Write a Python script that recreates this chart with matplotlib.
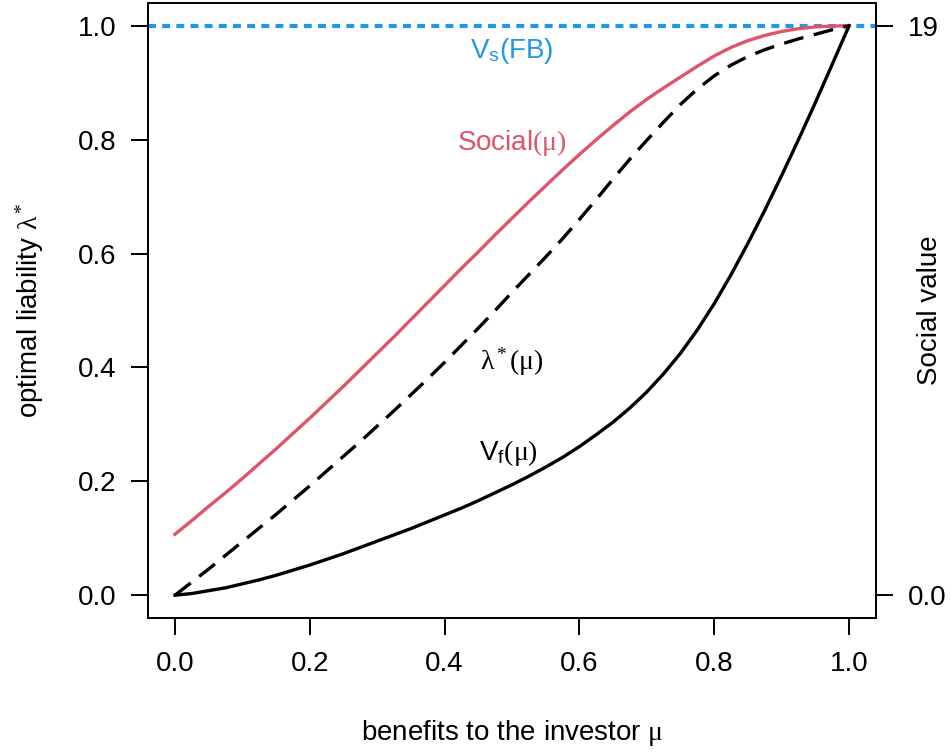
import matplotlib
matplotlib.use("Agg")
import matplotlib.pyplot as plt

plt.rcParams['font.family'] = ['Liberation Sans', 'DejaVu Sans']
plt.rcParams['mathtext.fontset'] = 'custom'
plt.rcParams['mathtext.rm'] = 'Liberation Serif'
plt.rcParams['mathtext.it'] = 'Liberation Serif:italic'
plt.rcParams['mathtext.sf'] = 'Liberation Sans'

# benefits to the investor
mu = [0.0, 0.025, 0.05, 0.075, 0.1, 0.125, 0.15, 0.175, 0.2, 0.225,
      0.25, 0.275, 0.3, 0.325, 0.35, 0.375, 0.4, 0.425, 0.45, 0.475,
      0.5, 0.525, 0.55, 0.575, 0.6, 0.625, 0.65, 0.675, 0.7, 0.725,
      0.75, 0.775, 0.8, 0.825, 0.85, 0.875, 0.9, 0.925, 0.95, 0.975, 1.0]
# social value curve (red)
social = [0.107, 0.131, 0.156, 0.180, 0.205, 0.231, 0.257, 0.284, 0.311, 0.339,
          0.367, 0.396, 0.425, 0.454, 0.484, 0.514, 0.544, 0.574, 0.603, 0.633,
          0.662, 0.691, 0.719, 0.747, 0.774, 0.800, 0.825, 0.849, 0.871, 0.891,
          0.910, 0.929, 0.947, 0.962, 0.974, 0.983, 0.990, 0.995, 0.998, 0.9995, 1.0]
# optimal liability lambda* (dashed)
lam_star = [0.0, 0.023, 0.046, 0.070, 0.094, 0.118, 0.142, 0.167, 0.192, 0.218,
            0.244, 0.270, 0.297, 0.324, 0.352, 0.380, 0.409, 0.439, 0.469, 0.500,
            0.532, 0.563, 0.594, 0.626, 0.660, 0.695, 0.731, 0.766, 0.799, 0.831,
            0.862, 0.889, 0.912, 0.931, 0.946, 0.958, 0.968, 0.977, 0.985, 0.993, 1.0]
# V_f (solid black)
v_f = [0.0, 0.003, 0.008, 0.013, 0.020, 0.027, 0.035, 0.044, 0.053, 0.063,
       0.073, 0.084, 0.095, 0.106, 0.117, 0.129, 0.141, 0.153, 0.166, 0.180,
       0.194, 0.209, 0.225, 0.242, 0.261, 0.282, 0.304, 0.329, 0.357, 0.389,
       0.425, 0.466, 0.512, 0.563, 0.618, 0.676, 0.737, 0.800, 0.865, 0.932, 1.0]
fb_level = 1.0

xticks = [0.0, 0.2, 0.4, 0.6, 0.8, 1.0]
yticks = [0.0, 0.2, 0.4, 0.6, 0.8, 1.0]
right_ticks = [0.0, 1.0]
right_labels = ['0.0', '19']

red = '#DF536B'
blue = '#2297E6'
fs = 20

fig = plt.figure(figsize=(9.51, 7.52), dpi=100)
ax = fig.add_axes([148/951, 1-618/752, 728/951, 615/752])

ax.axhline(fb_level, color=blue, lw=3.0, dashes=(1.9, 1.5))
ax.plot(mu, social, color=red, lw=2.4)
ax.plot(mu, lam_star, color='black', lw=2.4, dashes=(6.0, 3.2))
ax.plot(mu, v_f, color='black', lw=2.4)

ax.set_xlim(-0.04, 1.04)
ax.set_ylim(-0.04, 1.04)
ax.set_xticks(xticks)
ax.set_xticklabels(['%.1f' % t for t in xticks])
ax.set_yticks(yticks)
ax.set_yticklabels(['%.1f' % t for t in yticks])

for s in ax.spines.values():
    s.set_linewidth(1.4)
ax.tick_params(axis='both', labelsize=fs, length=12, width=1.4)
ax.tick_params(axis='x', pad=12)
ax.tick_params(axis='y', pad=11)

ax.set_xlabel(r'benefits to the investor $\mathrm{\mu}$', fontsize=fs, va='center')
ax.xaxis.set_label_coords(0.5, -0.187)
ax.set_ylabel(r'optimal liability $\mathrm{\lambda}^*$', fontsize=fs, va='center')
ax.yaxis.set_label_coords(-0.162, 0.5)

ax2 = ax.twinx()
ax2.set_ylim(-0.04, 1.04)
ax2.set_yticks(right_ticks)
ax2.set_yticklabels(right_labels)
ax2.tick_params(axis='y', labelsize=fs, length=12, width=1.4, pad=11)
for s in ax2.spines.values():
    s.set_linewidth(1.4)
ax2.set_ylabel('Social value', fontsize=fs, va='center')
ax2.yaxis.set_label_coords(1.074, 0.5)

ax.text(0.5, 0.955, r'V$_\mathsf{s}$(FB)', color=blue, fontsize=fs, ha='center', va='center')
ax.text(0.5, 0.795, r'Social$\mathrm{(\mu)}$', color=red, fontsize=fs, ha='center', va='center')
ax.text(0.5, 0.41, r'$\mathrm{\lambda}^*\mathrm{(\mu)}$', color='black', fontsize=fs, ha='center', va='center')
ax.text(0.495, 0.25, r'V$_\mathsf{f}\mathrm{(\mu)}$', color='black', fontsize=fs, ha='center', va='center')

fig.savefig('out.png', dpi=100)
